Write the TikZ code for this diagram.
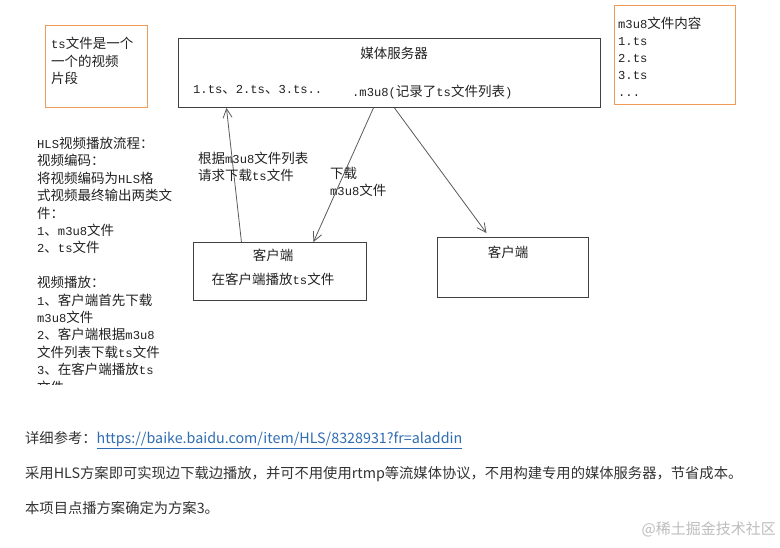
\documentclass[tikz,border=0pt]{standalone}
\usepackage{fontspec}
\setmainfont{Noto Sans CJK SC}
\newfontfamily\lat[Scale=0.9]{Liberation Mono}
\usetikzlibrary{arrows.meta,calc}
\definecolor{boxorange}{HTML}{F09A58}
\definecolor{linegray}{HTML}{5A5A5A}
\definecolor{textdark}{HTML}{222222}
\definecolor{linkblue}{HTML}{2F6DB3}
\definecolor{markgray}{HTML}{BDBDBD}

\begin{document}
\begin{tikzpicture}[x=1pt, y=-1pt,
  font=\fontsize{13.5}{17.4}\selectfont, text=textdark,
  >={Straight Barb[length=9pt,width=9pt]},
  frame/.style={draw=black!75, line width=0.9pt, inner sep=0pt, anchor=north west},
  note/.style={draw=boxorange, line width=1.2pt, inner sep=0pt, anchor=north west},
  flow/.style={->, draw=linegray, line width=0.8pt},
  txt/.style={inner sep=0pt, align=left, anchor=north west},
  page/.style={font=\fontsize{14.3}{17}\selectfont, text=black!80, inner sep=0pt, anchor=west}]
  % Blatt
  \fill[white] (0,0) rectangle (780,547);
  \useasboundingbox (0,0) rectangle (780,547);
  % Notiz links oben
  \node[note, minimum width=102pt, minimum height=82pt] (seg) at (45,25) {};
  \node[txt] (segtxt) at (51,37) {{\lat ts}文件是一个\\一个的视频\\片段};
  % Medienserver
  \node[frame, minimum width=422pt, minimum height=69pt] (server) at (178,38) {};
  \node (srvname) at (394,53) {媒体服务器};
  \node[anchor=west, inner sep=0pt] (tslist) at (193,90) {{\lat 1.ts}、{\lat 2.ts}、{\lat 3.ts..}};
  \node[anchor=west, inner sep=0pt] (m3u8) at (352,92) {{\lat .m3u8(}记录了{\lat ts}文件列表{\lat )}};
  % Notiz rechts oben
  \node[note, minimum width=121pt, minimum height=99pt] (content) at (614,5) {};
  \node[txt, font=\fontsize{13.5}{17}\selectfont] (contenttxt) at (618,17) {{\lat m3u8}文件内容\\{\lat 1.ts}\\{\lat 2.ts}\\{\lat 3.ts}\\{\lat ...}};
  % Ablauf links, unten abgeschnitten
  \begin{scope}
    \clip (0,0) rectangle (780,384);
    \node[txt] (flowtxt) at (37,137) {{\lat HLS}视频播放流程：\\视频编码：\\将视频编码为{\lat HLS}格\\式视频最终输出两类文\\件：\\{\lat 1}、{\lat m3u8}文件\\{\lat 2}、{\lat ts}文件\\[17.4pt]视频播放：\\{\lat 1}、客户端首先下载\\{\lat m3u8}文件\\{\lat 2}、客户端根据{\lat m3u8}\\文件列表下载{\lat ts}文件\\{\lat 3}、在客户端播放{\lat ts}\\文件};
  \end{scope}
  % Clients
  \node[frame, minimum width=173pt, minimum height=58pt] (client1) at (193,242) {};
  \node (c1name) at (273,255) {客户端};
  \node (c1play) at (273,279) {在客户端播放{\lat ts}文件};
  \node[frame, minimum width=151pt, minimum height=60pt] (client2) at (437,237) {};
  \node (c2name) at (508,252) {客户端};
  % Pfeile
  \draw[flow] ([xshift=-38.5pt]client1.north) -- ([xshift=-163pt]server.south);
  \draw[flow] ([xshift=-16pt]server.south) -- ([xshift=33.5pt]client1.north);
  \draw[flow] ([xshift=5pt]server.south) -- ([xshift=-26.5pt,yshift=4pt]client2.north);
  \node[txt, font=\fontsize{13.5}{16.5}\selectfont] (reqlbl) at (198,152) {根据{\lat m3u8}文件列表\\请求下载{\lat ts}文件};
  \node[txt, font=\fontsize{13.5}{17}\selectfont] (dllbl) at (330,167) {下载\\{\lat m3u8}文件};
  % Text darunter
  \node[page] (ref) at (25,440) {详细参考：{\color{linkblue}\underline{https://baike.baidu.com/item/HLS/8328931?fr=aladdin}}};
  \node[page] (plan) at (25,474) {采用HLS方案即可实现边下载边播放，并可不用使用rtmp等流媒体协议，不用构建专用的媒体服务器，节省成本。};
  \node[page] (choice) at (25,508) {本项目点播方案确定为方案3。};
  \node[anchor=east, inner sep=0pt, text=markgray, font=\fontsize{15}{18}\selectfont] (mark) at (776,529) {@稀土掘金技术社区};
\end{tikzpicture}
\end{document}
